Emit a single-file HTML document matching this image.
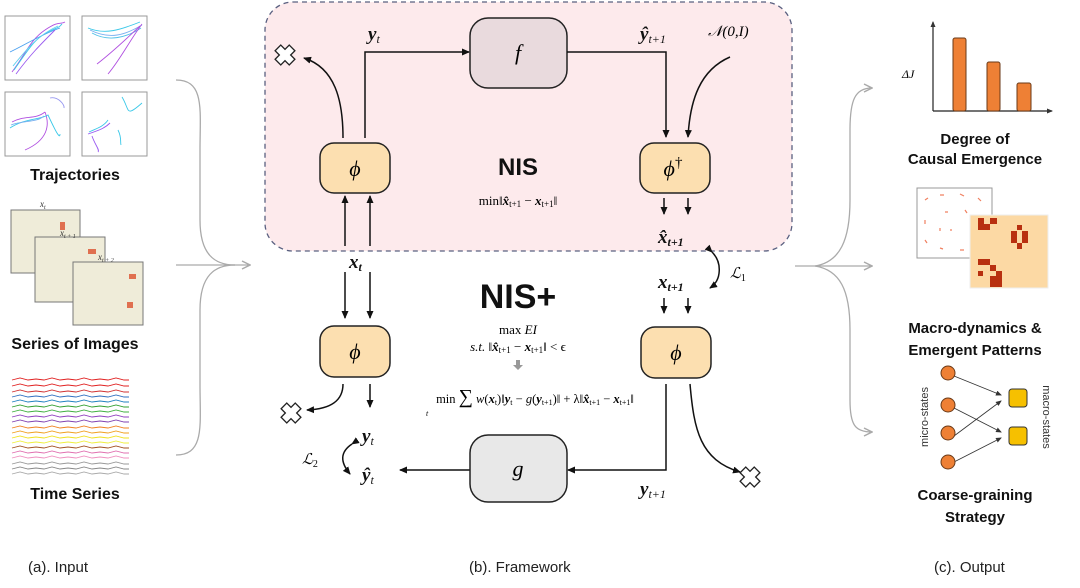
<!DOCTYPE html>
<html><head><meta charset="utf-8"><style>
html,body{margin:0;padding:0;background:#fff;}
svg{display:block;}
.s{font-family:"Liberation Serif",serif;font-style:italic;}
.b{font-family:"Liberation Sans",sans-serif;font-weight:bold;}
</style></head><body>
<svg width="1080" height="588" viewBox="0 0 1080 588" xmlns="http://www.w3.org/2000/svg">
<defs>
<marker id="ah" markerWidth="8" markerHeight="8" refX="7" refY="4" orient="auto" markerUnits="userSpaceOnUse"><path d="M0,0.5 L8,4 L0,7.5 z" fill="#111"/></marker>
<marker id="ag" markerWidth="10" markerHeight="10" refX="9" refY="5" orient="auto" markerUnits="userSpaceOnUse"><path d="M1,1 L9,5 L1,9" fill="none" stroke="#aaa" stroke-width="1.5"/></marker>
<marker id="as" markerWidth="6" markerHeight="6" refX="5" refY="3" orient="auto" markerUnits="userSpaceOnUse"><path d="M0,0.5 L6,3 L0,5.5 z" fill="#333"/></marker>
<g id="cross"><path d="M-4,-10 h8 v6 h6 v8 h-6 v6 h-8 v-6 h-6 v-8 h6 z" transform="rotate(45)" fill="#fff" stroke="#222" stroke-width="1.3"/></g>
</defs>

<!-- LEFT: trajectories -->
<g fill="#fff" stroke="#999" stroke-width="1">
<rect x="5" y="16" width="65" height="64"/><rect x="82" y="16" width="65" height="64"/>
<rect x="5" y="92" width="65" height="64"/><rect x="82" y="92" width="65" height="64"/>
</g>
<g fill="none" stroke-width="0.9">
<path d="M12,72 C25,55 30,40 45,30 S60,25 65,22" stroke="#b04fe0"/>
<path d="M14,70 C28,50 35,38 48,32 S58,28 62,24" stroke="#3ac8e8"/>
<path d="M10,52 C25,45 40,35 60,28" stroke="#4aa0f0"/>
<path d="M16,74 C30,55 40,45 55,30" stroke="#9a5af0"/>
<path d="M13,66 C26,50 38,35 58,26" stroke="#60d0f0"/>
<path d="M88,28 C105,35 120,30 140,22" stroke="#3ac8e8"/>
<path d="M90,30 C110,40 125,35 142,25" stroke="#7ab0f0"/>
<path d="M92,33 C108,42 126,38 141,28" stroke="#50c0e8"/>
<path d="M97,64 C115,50 125,40 140,26" stroke="#b04fe0"/>
<path d="M108,74 C120,60 130,40 142,24" stroke="#b04fe0"/>
<path d="M12,122 C25,115 35,120 45,112 M45,112 C50,125 48,140 25,150" stroke="#b04fe0"/>
<path d="M10,128 C25,118 40,120 48,115 C55,130 60,140 60,134" stroke="#3ac8e8"/>
<path d="M11,125 C24,120 36,123 44,116" stroke="#7ab0f0"/>
<path d="M50,98 C58,96 65,105 64,108" stroke="#9a9af0"/>
<path d="M88,134 C100,130 105,128 110,123 M92,136 C95,145 100,150 98,152" stroke="#9a5af0"/>
<path d="M89,132 C98,128 104,126 108,120" stroke="#3ac8e8"/>
<path d="M122,97 C130,110 125,118 142,103" stroke="#3ac8e8"/>
<path d="M118,130 C122,138 120,142 121,145" stroke="#3ac8e8"/>
</g>
<text x="75" y="180" text-anchor="middle" class="b" font-size="16" fill="#111">Trajectories</text>

<!-- images -->
<g stroke="#777" stroke-width="1" fill="#efecd9">
<rect x="11" y="210" width="69" height="63"/>
<rect x="35" y="237" width="70" height="65"/>
<rect x="73" y="262" width="70" height="63"/>
</g>
<g fill="#e07050">
<rect x="60" y="222" width="5" height="8"/><rect x="88" y="249" width="8" height="5"/>
<rect x="129" y="274" width="7" height="5"/><rect x="127" y="302" width="6" height="6"/>
</g>
<text x="40" y="207" class="s" font-size="9" fill="#333">x<tspan font-size="6" dy="2">t</tspan></text>
<text x="60" y="236" class="s" font-size="9" fill="#333">x<tspan font-size="6" dy="2">t + 1</tspan></text>
<text x="98" y="260" class="s" font-size="9" fill="#333">x<tspan font-size="6" dy="2">t + 2</tspan></text>
<text x="75" y="349" text-anchor="middle" class="b" font-size="16" fill="#111">Series of Images</text>

<!-- time series -->
<g fill="none" stroke-width="0.9">
<path d="M12,380 l8,-2 8,2 8,-1 8,1 8,-2 8,2 8,-1 8,1 8,-2 8,2 8,-1 8,1 8,-2 8,2 5,0" stroke="#e02020"/>
<path d="M12,386 l8,-2 8,2 8,-1 8,1 8,-2 8,2 8,-1 8,1 8,-2 8,2 8,-1 8,1 8,-2 8,2 5,0" stroke="#e02020"/>
<path d="M12,392 l8,-2 8,2 8,-1 8,1 8,-2 8,2 8,-1 8,1 8,-2 8,2 8,-1 8,1 8,-2 8,2 5,0" stroke="#d03030"/>
<path d="M12,397 l8,-2 8,2 8,-1 8,1 8,-2 8,2 8,-1 8,1 8,-2 8,2 8,-1 8,1 8,-2 8,2 5,0" stroke="#3070c0"/>
<path d="M12,402 l8,-2 8,2 8,-1 8,1 8,-2 8,2 8,-1 8,1 8,-2 8,2 8,-1 8,1 8,-2 8,2 5,0" stroke="#2080c0"/>
<path d="M12,407 l8,-2 8,2 8,-1 8,1 8,-2 8,2 8,-1 8,1 8,-2 8,2 8,-1 8,1 8,-2 8,2 5,0" stroke="#30a030"/>
<path d="M12,412 l8,-2 8,2 8,-1 8,1 8,-2 8,2 8,-1 8,1 8,-2 8,2 8,-1 8,1 8,-2 8,2 5,0" stroke="#40b040"/>
<path d="M12,417 l8,-2 8,2 8,-1 8,1 8,-2 8,2 8,-1 8,1 8,-2 8,2 8,-1 8,1 8,-2 8,2 5,0" stroke="#9040c0"/>
<path d="M12,422 l8,-2 8,2 8,-1 8,1 8,-2 8,2 8,-1 8,1 8,-2 8,2 8,-1 8,1 8,-2 8,2 5,0" stroke="#8040b0"/>
<path d="M12,428 l8,-2 8,2 8,-1 8,1 8,-2 8,2 8,-1 8,1 8,-2 8,2 8,-1 8,1 8,-2 8,2 5,0" stroke="#f08020"/>
<path d="M12,433 l8,-2 8,2 8,-1 8,1 8,-2 8,2 8,-1 8,1 8,-2 8,2 8,-1 8,1 8,-2 8,2 5,0" stroke="#f0a020"/>
<path d="M12,438 l8,-2 8,2 8,-1 8,1 8,-2 8,2 8,-1 8,1 8,-2 8,2 8,-1 8,1 8,-2 8,2 5,0" stroke="#f0e020"/>
<path d="M12,443 l8,-2 8,2 8,-1 8,1 8,-2 8,2 8,-1 8,1 8,-2 8,2 8,-1 8,1 8,-2 8,2 5,0" stroke="#f0f040"/>
<path d="M12,448 l8,-2 8,2 8,-1 8,1 8,-2 8,2 8,-1 8,1 8,-2 8,2 8,-1 8,1 8,-2 8,2 5,0" stroke="#a05020"/>
<path d="M12,453 l8,-2 8,2 8,-1 8,1 8,-2 8,2 8,-1 8,1 8,-2 8,2 8,-1 8,1 8,-2 8,2 5,0" stroke="#e070b0"/>
<path d="M12,458 l8,-2 8,2 8,-1 8,1 8,-2 8,2 8,-1 8,1 8,-2 8,2 8,-1 8,1 8,-2 8,2 5,0" stroke="#f090c0"/>
<path d="M12,464 l8,-2 8,2 8,-1 8,1 8,-2 8,2 8,-1 8,1 8,-2 8,2 8,-1 8,1 8,-2 8,2 5,0" stroke="#999"/>
<path d="M12,469 l8,-2 8,2 8,-1 8,1 8,-2 8,2 8,-1 8,1 8,-2 8,2 8,-1 8,1 8,-2 8,2 5,0" stroke="#888"/>
<path d="M12,474 l8,-2 8,2 8,-1 8,1 8,-2 8,2 8,-1 8,1 8,-2 8,2 8,-1 8,1 8,-2 8,2 5,0" stroke="#aaa"/>
</g>
<text x="75" y="499" text-anchor="middle" class="b" font-size="16" fill="#111">Time Series</text>

<!-- left bracket -->
<g fill="none" stroke="#aaa" stroke-width="1.3">
<path d="M176,80 C205,80 200,110 200,150 L200,220 C200,255 215,265 235,265"/>
<path d="M176,455 C205,455 200,425 200,385 L200,310 C200,275 215,265 235,265"/>
<path d="M176,265 L250,265" marker-end="url(#ag)"/>
</g>

<!-- NIS box -->
<rect x="265" y="2" width="527" height="249" rx="28" fill="#fdeaec" stroke="#5a6080" stroke-width="1.3" stroke-dasharray="5,4"/>
<rect x="470" y="18" width="97" height="70" rx="18" fill="#e9dadd" stroke="#222" stroke-width="1.5"/>
<text x="518" y="60" text-anchor="middle" class="s" font-size="22">f</text>
<rect x="320" y="143" width="70" height="50" rx="14" fill="#fcdfb0" stroke="#222" stroke-width="1.5"/>
<text x="355" y="176" text-anchor="middle" class="s" font-size="22">ϕ</text>
<rect x="640" y="143" width="70" height="50" rx="14" fill="#fcdfb0" stroke="#222" stroke-width="1.5"/>
<text x="673" y="176" text-anchor="middle" class="s" font-size="22">ϕ<tspan font-style="normal" font-size="15" dy="-9">†</tspan></text>
<text x="518" y="175" text-anchor="middle" class="b" font-size="24" fill="#111">NIS</text>
<text x="518" y="205" text-anchor="middle" font-family="Liberation Serif,serif" font-size="13">min‖<tspan font-weight="bold" font-style="italic">x̂</tspan><tspan font-size="9" dy="2">t+1</tspan><tspan dy="-2"> − </tspan><tspan font-weight="bold" font-style="italic">x</tspan><tspan font-size="9" dy="2">t+1</tspan><tspan dy="-2">‖</tspan></text>

<g class="s" font-weight="bold" font-size="19" fill="#111">
<text x="368" y="40">y<tspan font-size="12" dy="3" font-weight="normal">t</tspan></text>
<text x="640" y="40">ŷ<tspan font-size="12" dy="3" font-weight="normal">t+1</tspan></text>
<text x="349" y="268">x<tspan font-size="12" dy="3">t</tspan></text>
<text x="658" y="243">x̂<tspan font-size="12" dy="3">t+1</tspan></text>
<text x="658" y="288">x<tspan font-size="12" dy="3">t+1</tspan></text>
<text x="362" y="442">y<tspan font-size="12" dy="3" font-weight="normal">t</tspan></text>
<text x="362" y="481">ŷ<tspan font-size="12" dy="3" font-weight="normal">t</tspan></text>
<text x="640" y="495">y<tspan font-size="12" dy="3" font-weight="normal">t+1</tspan></text>
</g>
<text x="708" y="36" class="s" font-size="15">𝒩(0,I)</text>
<text x="730" y="278" class="s" font-size="15">ℒ<tspan font-size="10" dy="3" font-style="normal">1</tspan></text>
<text x="302" y="464" class="s" font-size="15">ℒ<tspan font-size="10" dy="3" font-style="normal">2</tspan></text>

<g fill="none" stroke="#111" stroke-width="1.5">
<path d="M343,138 C343,100 335,68 304,58" marker-end="url(#ah)"/>
<path d="M365,138 L365,52 L469,52" marker-end="url(#ah)"/>
<path d="M567,52 L666,52 L666,137" marker-end="url(#ah)"/>
<path d="M730,57 C700,70 690,100 688,137" marker-end="url(#ah)"/>
<path d="M345,246 L345,196" marker-end="url(#ah)"/>
<path d="M370,246 L370,196" marker-end="url(#ah)"/>
<path d="M664,198 L664,214" marker-end="url(#ah)"/>
<path d="M688,198 L688,214" marker-end="url(#ah)"/>
<path d="M712,252 C722,262 722,280 710,288" marker-end="url(#ah)" marker-start="url(#ah)"/>
<path d="M345,272 L345,318" marker-end="url(#ah)"/>
<path d="M370,272 L370,318" marker-end="url(#ah)"/>
<path d="M664,298 L664,313" marker-end="url(#ah)"/>
<path d="M688,298 L688,313" marker-end="url(#ah)"/>
<path d="M343,384 C343,400 332,409 307,410" marker-end="url(#ah)"/>
<path d="M370,384 L370,407" marker-end="url(#ah)"/>
<path d="M352,444 C340,452 340,462 350,474" marker-end="url(#ah)" marker-start="url(#ah)"/>
<path d="M666,384 L666,470 L568,470" marker-end="url(#ah)"/>
<path d="M470,470 L400,470" marker-end="url(#ah)"/>
<path d="M690,384 C694,430 700,460 740,472" marker-end="url(#ah)"/>
</g>
<use href="#cross" x="285" y="55"/>
<use href="#cross" x="291" y="413"/>
<use href="#cross" x="750" y="477"/>

<rect x="320" y="326" width="70" height="51" rx="14" fill="#fcdfb0" stroke="#222" stroke-width="1.5"/>
<text x="355" y="359" text-anchor="middle" class="s" font-size="22">ϕ</text>
<rect x="641" y="327" width="70" height="51" rx="14" fill="#fcdfb0" stroke="#222" stroke-width="1.5"/>
<text x="676" y="360" text-anchor="middle" class="s" font-size="22">ϕ</text>
<rect x="470" y="435" width="97" height="67" rx="18" fill="#e8e8e8" stroke="#222" stroke-width="1.5"/>
<text x="518" y="476" text-anchor="middle" class="s" font-size="22">g</text>

<text x="518" y="308" text-anchor="middle" class="b" font-size="34" fill="#111">NIS+</text>
<text x="518" y="334" text-anchor="middle" font-family="Liberation Serif,serif" font-size="13">max <tspan font-style="italic">EI</tspan></text>
<text x="518" y="351" text-anchor="middle" font-family="Liberation Serif,serif" font-size="13"><tspan font-style="italic">s.t.</tspan> ‖<tspan font-weight="bold" font-style="italic">x̂</tspan><tspan font-size="9" dy="2">t+1</tspan><tspan dy="-2"> − </tspan><tspan font-weight="bold" font-style="italic">x</tspan><tspan font-size="9" dy="2">t+1</tspan><tspan dy="-2">‖ &lt; ϵ</tspan></text>
<path d="M516,360 h4 v5 h3 l-5,5 l-5,-5 h3 z" fill="#999"/>
<text x="535" y="403" text-anchor="middle" font-family="Liberation Serif,serif" font-size="12.5">min <tspan font-size="20">∑</tspan> <tspan font-style="italic">w</tspan>(<tspan font-weight="bold" font-style="italic">x</tspan><tspan font-size="8" dy="2">t</tspan><tspan dy="-2">)‖</tspan><tspan font-weight="bold" font-style="italic">y</tspan><tspan font-size="8" dy="2">t</tspan><tspan dy="-2"> − </tspan><tspan font-style="italic">g</tspan>(<tspan font-weight="bold" font-style="italic">y</tspan><tspan font-size="8" dy="2">t+1</tspan><tspan dy="-2">)‖ + λ‖</tspan><tspan font-weight="bold" font-style="italic">x̂</tspan><tspan font-size="8" dy="2">t+1</tspan><tspan dy="-2"> − </tspan><tspan font-weight="bold" font-style="italic">x</tspan><tspan font-size="8" dy="2">t+1</tspan><tspan dy="-2">‖</tspan></text>
<text x="426" y="416" font-family="Liberation Serif,serif" font-style="italic" font-size="8">t</text>

<!-- right bracket -->
<g fill="none" stroke="#aaa" stroke-width="1.3">
<path d="M795,266 L872,266" marker-end="url(#ag)"/>
<path d="M815,266 C840,262 850,240 850,200 L850,130 C850,100 855,88 872,88" marker-end="url(#ag)"/>
<path d="M815,266 C840,270 850,290 850,330 L850,400 C850,425 855,432 872,432" marker-end="url(#ag)"/>
</g>

<!-- bar chart -->
<g stroke="#222" stroke-width="1.2" fill="none">
<path d="M933,111 L933,22" marker-end="url(#as)"/>
<path d="M933,111 L1052,111" marker-end="url(#as)"/>
</g>
<g fill="#ee8035" stroke="#6a3a18" stroke-width="1">
<rect x="953" y="38" width="13" height="73" rx="2"/>
<rect x="987" y="62" width="13" height="49" rx="2"/>
<rect x="1017" y="83" width="14" height="28" rx="2"/>
</g>
<text x="902" y="78" class="s" font-size="12">ΔJ</text>
<text x="975" y="144" text-anchor="middle" class="b" font-size="15" fill="#111">Degree of</text>
<text x="975" y="164" text-anchor="middle" class="b" font-size="15" fill="#111">Causal Emergence</text>

<!-- patterns -->
<rect x="917" y="188" width="75" height="70" fill="#fff" stroke="#999"/>
<g stroke="#f08060" stroke-width="1.2">
<path d="M925,200 l3,-2 M940,195 l4,0 M960,194 l4,2 M978,198 l3,3 M925,220 l0,4 M945,212 l3,0 M965,210 l2,3 M985,215 l0,4 M925,240 l2,3 M940,248 l3,1 M960,250 l4,0 M978,245 l3,-2 M950,230 l2,0 M940,228 l0,3"/>
</g>
<rect x="970" y="215" width="78" height="73" fill="#fcd9a4" stroke="#eee"/>
<g fill="#b83010">
<rect x="978" y="218" width="6" height="12"/><rect x="984" y="224" width="6" height="6"/><rect x="990" y="218" width="7" height="6"/>
<rect x="1017" y="225" width="5" height="5"/><rect x="1011" y="231" width="6" height="12"/><rect x="1022" y="231" width="6" height="12"/><rect x="1017" y="243" width="5" height="6"/>
<rect x="978" y="259" width="12" height="6"/><rect x="990" y="265" width="6" height="6"/><rect x="978" y="271" width="5" height="5"/><rect x="990" y="276" width="12" height="11"/><rect x="996" y="271" width="6" height="5"/>
</g>
<text x="975" y="333" text-anchor="middle" class="b" font-size="15" fill="#111">Macro-dynamics &amp;</text>
<text x="975" y="355" text-anchor="middle" class="b" font-size="15" fill="#111">Emergent Patterns</text>

<!-- coarse graining -->
<g stroke="#333" stroke-width="0.8" fill="none">
<path d="M954,376 L1001,395" marker-end="url(#as)"/>
<path d="M954,408 L1001,432" marker-end="url(#as)"/>
<path d="M954,436 L1001,401" marker-end="url(#as)"/>
<path d="M954,462 L1001,438" marker-end="url(#as)"/>
</g>
<g fill="#ee8035" stroke="#6a3a18" stroke-width="1">
<circle cx="948" cy="373" r="7"/><circle cx="948" cy="405" r="7"/>
<circle cx="948" cy="433" r="7"/><circle cx="948" cy="462" r="7"/>
</g>
<g fill="#f6c000" stroke="#333" stroke-width="1">
<rect x="1009" y="389" width="18" height="18" rx="3"/><rect x="1009" y="427" width="18" height="18" rx="3"/>
</g>
<text transform="translate(928,417) rotate(-90)" text-anchor="middle" font-family="Liberation Sans,sans-serif" font-size="11" fill="#333">micro-states</text>
<text transform="translate(1043,417) rotate(90)" text-anchor="middle" font-family="Liberation Sans,sans-serif" font-size="11" fill="#333">macro-states</text>
<text x="975" y="500" text-anchor="middle" class="b" font-size="15" fill="#111">Coarse-graining</text>
<text x="975" y="522" text-anchor="middle" class="b" font-size="15" fill="#111">Strategy</text>

<g font-family="Liberation Sans,sans-serif" font-size="15" fill="#222">
<text x="28" y="572">(a). Input</text>
<text x="469" y="572">(b). Framework</text>
<text x="934" y="572">(c). Output</text>
</g>
</svg>
</body></html>
